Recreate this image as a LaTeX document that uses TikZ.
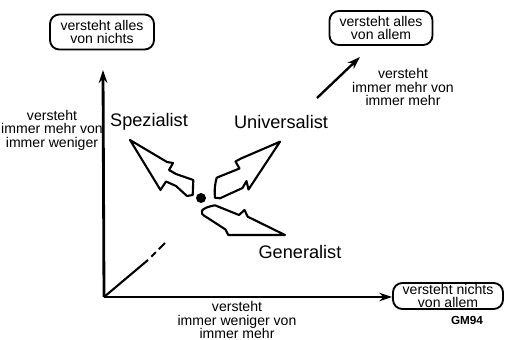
\documentclass[tikz,border=0pt]{standalone}
\usepackage{fontspec}
\setmainfont{Liberation Sans}
\usetikzlibrary{arrows.meta,positioning}

\begin{document}
\begin{tikzpicture}[x=0.03cm, y=-0.03cm, line join=round]
    % Define styles
    \tikzstyle{box} = [rectangle, rounded corners=8pt, draw=black, line width=1.6pt, align=center, inner sep=1pt, font=\fontsize{12}{11.5}\selectfont]
    \tikzstyle{note} = [align=center, font=\fontsize{12}{11.5}\selectfont]
    \tikzstyle{role} = [font=\fontsize{15.5}{16}\selectfont]
    \tikzstyle{axis} = [line width=2.4pt, -{Stealth[length=3.9mm, width=2.6mm]}]
    \tikzstyle{bolt} = [line width=1.8pt, fill=white]

    \useasboundingbox (0,0) rectangle (506,340);

    % Nodes
    \node[box, minimum width=3.12cm, minimum height=1.05cm] (alles_nichts) at (102,32) {versteht alles\\von nichts};
    \node[box, minimum width=3.09cm, minimum height=1.02cm] (alles_allem) at (381,28) {versteht alles\\von allem};
    \node[box, minimum width=3.3cm, minimum height=0.78cm, font=\fontsize{12}{10.5}\selectfont] (nichts_allem) at (448,296) {versteht nichts\\von allem};
    \node[note] (mehr_weniger) at (52,130) {versteht\\immer mehr von\\immer weniger};
    \node[note] (mehr_mehr) at (403,87) {versteht\\immer mehr von\\immer mehr};
    \node[note] (weniger_mehr) at (237,320) {versteht\\immer weniger von\\immer mehr};
    \node[role] (spezialist) at (149,122) {Spezialist};
    \node[role] (universalist) at (281,122) {Universalist};
    \node[role] (generalist) at (300,252) {Generalist};
    \node[font=\bfseries\fontsize{10}{10}\selectfont] (gm) at (467,320) {GM94};
    \node[circle, fill=black, inner sep=0pt, minimum size=0.3cm] (dot) at (201,198) {};

    \coordinate (origin) at (104,297);
    \coordinate (ytip) at (103,70);
    \coordinate (diag_end) at (148,260);
    \coordinate (diag_tip) at (165,243);
    \coordinate (mehr_start) at (317,98);
    \coordinate (mehr_end) at (360,57);

    % Axes
    \draw[axis] (origin) -- (ytip);
    \draw[axis] (origin) -- (origin -| nichts_allem.west);
    \draw[axis, line width=2pt] (mehr_start) -- (mehr_end);
    \draw[line width=1.8pt] (origin) -- (diag_end);
    \draw[line width=1.8pt, dash pattern=on 0pt off 4pt on 5.5pt off 3.5pt on 8pt] (diag_end) -- (diag_tip);

    % Arrows out of the dot
    \draw[bolt] (130,140) -- (167,162) -- (173,163) -- (169,170) -- (176,174) -- (193.3,180) -- (192.7,195) -- (187,196) -- (176,186) -- (166,181.5) -- (160.5,190) -- cycle;
    \draw[bolt] (280,141.7) -- (241,158.5) -- (235.5,161.5) -- (239.5,168.5) -- (216.7,177.7) to[bend right=10] (215,197.7) -- (220,198.3) -- (242.5,188) -- (246.5,181) -- (248.5,189.5) -- cycle;
    \draw[bolt] (215,205.3) -- (239,215) -- (244.5,210) -- (247.7,216.7) -- (285,235) -- (228.3,235) -- (225.5,229.5) -- (206.7,217.3) .. controls (198,213) and (200,208) .. cycle;
\end{tikzpicture}
\end{document}
